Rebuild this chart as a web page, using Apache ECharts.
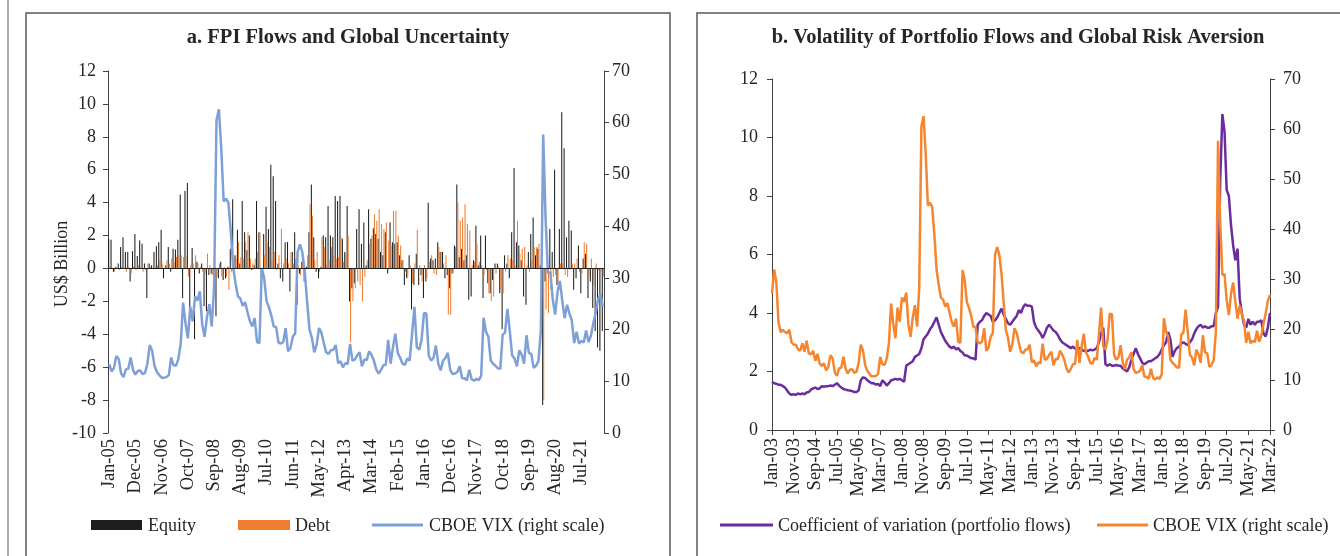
<!DOCTYPE html>
<html><head><meta charset="utf-8">
<script src="https://cdn.jsdelivr.net/npm/echarts@6/dist/echarts.min.js"></script>
<style>html,body{margin:0;padding:0;background:#fff}#c{width:1340px;height:556px}</style>
</head><body><div id="c"></div>
<script>
const MONTHS = ['Jan','Feb','Mar','Apr','May','Jun','Jul','Aug','Sep','Oct','Nov','Dec'];
function monthLabels(y0, count){const out=[];for(let k=0;k<count;k++){const y=y0+Math.floor(k/12);out.push(MONTHS[k%12]+'-'+String(y%100).padStart(2,'0'));}return out;}
const catA = monthLabels(2005, 208);   // Jan-05 .. Apr-22
const catB = monthLabels(2003, 231);   // Jan-03 .. Mar-22

const titleA = 'a. FPI Flows and Global Uncertainty';
const titleB = 'b. Volatility of Portfolio Flows and Global Risk Aversion';
const yNameA = 'US$ Billion';
const legendA = ['Equity', 'Debt', 'CBOE VIX (right scale)'];
const legendB = ['Coefficient of variation (portfolio flows)', 'CBOE VIX (right scale)'];

const equity = [
1.8,1.75,-0.2,0.1,0.3,1.3,1.9,1.0,1.0,-0.8,1.05,2.1,
0.75,1.7,1.5,0.3,-1.8,0.3,0.2,1.0,1.35,1.6,2.35,-0.6,
0.2,1.3,-0.2,1.2,1.15,1.75,4.5,-1.8,4.7,5.2,-3.1,1.25,
-4.3,0.4,-0.3,0.3,-2.3,-2.6,-0.4,-0.3,-1.9,-2.9,-0.6,0.4,
-0.7,-0.6,0.1,1.2,4.2,0.8,2.35,0.3,4.1,2.2,1.1,2.0,
-0.1,0.2,4.1,2.2,-2.0,2.1,3.75,2.4,6.3,5.6,4.1,0.3,
-0.6,-0.8,1.6,1.6,-1.4,1.0,2.2,-2.2,-0.3,0.4,-0.8,0.1,
2.2,5.1,1.9,-0.2,-0.6,0.1,2.0,1.9,3.8,2.0,1.9,4.4,
4.1,4.4,1.8,1.0,3.8,-2.0,-1.2,-0.9,2.4,3.6,1.5,2.8,
0.2,3.6,1.8,2.45,2.1,1.8,1.0,0.8,2.2,-0.3,2.8,1.6,
1.5,1.6,0.8,0.5,-1.0,-0.6,0.8,-2.5,-1.0,0.9,-1.0,-0.4,
-1.8,-0.8,4.0,0.6,0.5,0.6,1.6,1.0,1.0,-0.6,-0.4,-1.2,
-0.3,1.4,5.1,0.7,1.2,0.5,0.8,-1.9,-1.7,0.5,2.6,0.2,
2.0,-1.8,2.0,-0.9,-1.5,-0.7,0.3,0.3,-1.5,-3.7,0.8,0.3,
-0.6,2.2,6.1,1.6,1.4,0.5,-1.7,-2.2,1.0,2.1,3.1,0.8,
1.2,0.2,-8.3,-0.8,1.1,2.4,1.0,6.0,-1.0,2.4,9.5,7.3,
1.9,2.9,2.3,-1.3,-0.6,1.4,-1.5,0.6,0.9,-1.8,-0.8,-2.4,
-3.8,-4.8,-5.0,-3.8
];
const debt = [
0.1,0.05,-0.2,0.05,-0.1,0.1,0.05,-0.2,0.1,-0.3,0.1,-0.1,
0.2,0.05,-0.2,-0.1,0.3,0.1,0.0,0.1,0.2,0.5,0.3,0.05,
0.5,0.3,0.6,0.4,0.7,0.8,0.8,0.7,0.7,-0.5,0.2,0.3,
0.8,0.3,0.1,-0.2,-0.3,0.9,0.2,-0.4,0.8,-0.5,0.3,-0.5,
0.1,-0.5,-1.3,-0.2,0.5,0.6,1.6,0.7,0.6,1.6,2.2,0.6,
0.3,0.6,1.0,2.2,-0.2,0.8,1.6,1.3,0.5,1.0,-0.1,0.8,
2.4,0.3,0.6,0.3,1.0,0.3,0.6,0.2,-0.4,0.6,-0.5,0.8,
3.9,3.2,0.5,1.0,-0.2,1.9,1.3,0.2,0.5,1.3,0.8,0.6,
0.7,1.9,0.4,0.9,2.0,-4.5,-2.0,-1.2,-0.8,-1.0,-2.0,-0.5,
0.5,1.5,2.0,3.3,2.9,3.6,2.7,2.4,2.8,1.7,1.4,3.5,
3.5,2.0,1.4,0.5,-0.2,-0.5,0.2,-0.9,0.3,2.35,0.2,-0.8,
0.2,-0.6,0.4,0.8,-0.3,-0.4,1.3,1.0,0.3,0.8,-2.8,-2.8,
-0.3,1.3,4.0,2.9,3.1,3.9,2.7,2.3,0.2,0.4,1.5,0.4,
0.2,-0.4,-0.1,-1.5,-2.0,-1.7,-0.3,0.1,-1.3,-1.5,-0.2,0.8,
0.6,0.5,0.2,2.9,0.9,1.2,1.3,0.2,-0.2,0.5,1.3,1.3,
1.5,-0.3,-8.0,-2.5,-2.7,-1.3,-0.5,-0.4,-1.0,0.3,0.3,-0.4,
-0.5,-0.1,0.3,0.3,0.6,-0.2,-0.3,1.6,1.5,-0.5,0.6,-1.0,
0.3,-0.1,-0.2,-0.5
];
const vixA = [
13.3,11.9,12.6,14.9,14.3,11.5,10.8,12.3,12.4,14.6,12.2,11.3,
12.0,12.1,11.4,11.6,13.3,17.0,15.9,13.0,11.8,11.2,10.7,10.7,
10.8,11.2,14.6,13.1,13.0,14.3,17.3,25.2,21.2,18.3,24.4,21.6,
26.4,25.6,27.4,21.0,18.6,22.4,24.9,20.6,28.4,60.5,62.6,55.0,
44.8,45.3,44.5,38.9,32.0,28.9,26.4,26.0,24.6,25.3,23.4,21.6,
20.6,22.2,17.6,17.4,31.9,29.9,25.5,24.3,22.7,20.6,20.5,17.5,
17.3,17.6,20.3,15.8,16.4,18.6,19.3,35.0,36.5,34.9,31.2,25.4,
20.0,18.4,15.6,17.1,20.3,19.4,17.4,15.6,15.3,16.0,16.1,17.0,
13.5,13.9,12.7,13.5,13.3,17.2,14.0,14.2,15.0,15.6,12.9,14.2,
14.1,15.8,15.1,14.0,12.3,11.5,12.2,13.1,13.2,18.0,13.4,16.6,
19.2,15.5,14.6,13.4,13.2,14.4,14.0,19.1,24.4,16.6,16.1,18.0,
23.2,23.1,15.0,14.0,14.5,16.9,13.4,12.1,14.0,14.5,15.5,12.2,
11.4,11.5,11.8,12.9,10.6,10.6,10.2,12.2,10.4,10.1,10.5,10.2,
11.1,22.3,19.6,18.6,14.0,13.4,13.0,12.5,12.4,19.0,19.4,24.0,
19.6,15.0,14.4,12.9,16.0,15.1,13.4,18.9,15.5,15.3,12.6,13.0,
13.9,19.6,57.7,41.5,30.9,31.1,25.9,22.9,27.2,29.4,25.6,22.2,
24.8,23.1,21.8,17.4,19.6,17.3,17.8,17.5,19.8,17.6,18.8,21.2,
23.2,25.8,26.9,24.4
];
const coefVar = [
1.65,1.6,1.58,1.55,1.55,1.5,1.45,1.35,1.25,1.2,1.22,1.2,
1.25,1.22,1.25,1.22,1.28,1.3,1.38,1.42,1.45,1.4,1.42,1.5,
1.48,1.5,1.5,1.52,1.5,1.55,1.6,1.52,1.45,1.4,1.38,1.36,
1.35,1.33,1.3,1.3,1.35,1.7,1.8,1.78,1.7,1.65,1.6,1.6,
1.55,1.58,1.5,1.7,1.62,1.52,1.6,1.7,1.72,1.75,1.72,1.75,
1.7,1.65,2.2,2.25,2.3,2.35,2.5,2.55,2.6,2.8,3.1,3.2,
3.3,3.45,3.55,3.7,3.85,3.6,3.35,3.2,3.05,2.95,2.85,2.8,
2.85,2.75,2.8,2.7,2.65,2.55,2.55,2.5,2.45,2.45,2.4,3.6,
3.7,3.75,3.9,4.0,3.95,3.9,3.7,3.75,3.85,4.0,4.15,3.95,
3.8,3.65,3.6,3.7,3.8,3.9,4.1,4.0,4.2,4.3,4.25,4.25,
4.22,3.7,3.5,3.4,3.3,3.15,3.3,3.5,3.6,3.5,3.4,3.35,
3.25,3.1,3.0,2.95,2.9,2.85,2.8,2.85,2.78,2.75,2.8,2.75,
2.7,2.72,2.7,2.75,2.72,2.75,2.8,3.0,3.3,3.5,2.25,2.2,
2.25,2.2,2.2,2.22,2.2,2.2,2.1,2.05,2.0,2.15,2.4,2.6,
2.8,2.6,2.45,2.3,2.25,2.3,2.35,2.35,2.4,2.45,2.5,2.6,
2.75,2.9,3.0,3.35,3.1,2.5,2.7,2.8,2.85,2.95,3.0,2.95,
2.9,3.0,3.1,3.3,3.45,3.55,3.6,3.5,3.55,3.5,3.5,3.55,
3.55,4.0,4.2,8.5,10.8,10.2,8.2,8.0,7.0,6.3,5.8,6.2,
4.5,4.0,3.6,3.5,3.8,3.6,3.7,3.6,3.7,3.7,3.75,3.3,
3.2,3.5,4.0
];
const vixB = [
27.3,32.0,29.5,21.5,19.5,20.0,19.5,19.3,20.0,17.5,17.0,17.0,
16.1,15.8,17.3,15.6,17.8,15.3,15.1,15.8,13.8,15.2,13.3,12.8,
13.3,11.9,12.6,14.9,14.3,11.5,10.8,12.3,12.4,14.6,12.2,11.3,
12.0,12.1,11.4,11.6,13.3,17.0,15.9,13.0,11.8,11.2,10.7,10.7,
10.8,11.2,14.6,13.1,13.0,14.3,17.3,25.2,21.2,18.3,24.4,21.6,
26.4,25.6,27.4,21.0,18.6,22.4,24.9,20.6,28.4,60.5,62.6,55.0,
44.8,45.3,44.5,38.9,32.0,28.9,26.4,26.0,24.6,25.3,23.4,21.6,
20.6,22.2,17.6,17.4,31.9,29.9,25.5,24.3,22.7,20.6,20.5,17.5,
17.3,17.6,20.3,15.8,16.4,18.6,19.3,35.0,36.5,34.9,31.2,25.4,
20.0,18.4,15.6,17.1,20.3,19.4,17.4,15.6,15.3,16.0,16.1,17.0,
13.5,13.9,12.7,13.5,13.3,17.2,14.0,14.2,15.0,15.6,12.9,14.2,
14.1,15.8,15.1,14.0,12.3,11.5,12.2,13.1,13.2,18.0,13.4,16.6,
19.2,15.5,14.6,13.4,13.2,14.4,14.0,19.1,24.4,16.6,16.1,18.0,
23.2,23.1,15.0,14.0,14.5,16.9,13.4,12.1,14.0,14.5,15.5,12.2,
11.4,11.5,11.8,12.9,10.6,10.6,10.2,12.2,10.4,10.1,10.5,10.2,
11.1,22.3,19.6,18.6,14.0,13.4,13.0,12.5,12.4,19.0,19.4,24.0,
19.6,15.0,14.4,12.9,16.0,15.1,13.4,18.9,15.5,15.3,12.6,13.0,
13.9,19.6,57.7,41.5,30.9,31.1,25.9,22.9,27.2,29.4,25.6,22.2,
24.8,23.1,21.8,17.4,19.6,17.3,17.8,17.5,19.8,17.6,18.8,21.2,
23.2,25.8,26.9
];

const FONT = 'Liberation Serif';
const TXT = '#262626';
const AX = '#404040';
const C_EQ = '#1e1e1e', C_DEBT = '#ED7D31', C_VIXA = '#7EA0D7', C_COV = '#6B2C9E', C_VIXB = '#F5862F';
const numLbl = {fontFamily: FONT, fontSize: 18, color: TXT};
const catLbl = {fontFamily: FONT, fontSize: 18.5, color: TXT};

function yAx(grid, pos, min, max, interval, margin){
  return {
    type:'value', gridIndex:grid, position:pos, min:min, max:max, interval:interval,
    axisLine:{show:true, lineStyle:{color:AX, width:1}},
    axisTick:{show:true, inside:false, length:5, lineStyle:{color:AX}},
    axisLabel:Object.assign({margin:margin}, numLbl),
    splitLine:{show:false}
  };
}
function legText(x, t){
  return {type:'text', x:x, y:526, style:{text:t, font:'18px "Liberation Serif"', fill:TXT, textAlign:'left', textVerticalAlign:'middle'}};
}
function legLine(x1, x2, color){
  return {type:'line', shape:{x1:x1, y1:525, x2:x2, y2:525}, style:{stroke:color, lineWidth:3}};
}
function legRect(x, w, color){
  return {type:'rect', shape:{x:x, y:520, width:w, height:10}, style:{fill:color}};
}

const chart = echarts.init(document.getElementById('c'), null, {renderer:'canvas'});
chart.setOption({
  animation:false,
  backgroundColor:'#ffffff',
  graphic:[
    {type:'line', shape:{x1:8,y1:0,x2:8,y2:556}, style:{stroke:'#8c8c8c', lineWidth:1.5}},
    {type:'rect', shape:{x:26,y:13,width:644,height:600}, style:{fill:'none', stroke:'#5a5a5a', lineWidth:1.5}},
    {type:'rect', shape:{x:697,y:13,width:646,height:600}, style:{fill:'none', stroke:'#5a5a5a', lineWidth:1.5}},
    {type:'text', x:348, y:38, style:{text:titleA, font:'bold 20.5px "Liberation Serif"', fill:TXT, textAlign:'center', textVerticalAlign:'middle'}},
    {type:'text', x:1018, y:38, style:{text:titleB, font:'bold 20.5px "Liberation Serif"', fill:TXT, textAlign:'center', textVerticalAlign:'middle'}},
    {type:'text', x:62, y:264, rotation:Math.PI/2, style:{text:yNameA, font:'18px "Liberation Serif"', fill:TXT, textAlign:'center', textVerticalAlign:'middle'}},
    legRect(91, 51, C_EQ), legText(148, legendA[0]),
    legRect(238, 52, C_DEBT), legText(295, legendA[1]),
    legLine(372, 423, C_VIXA), legText(429, legendA[2]),
    legLine(720, 773, C_COV), legText(778, legendB[0]),
    legLine(1097, 1148, C_VIXB), legText(1153, legendB[1])
  ],
  grid:[
    {left:108, top:71, width:496, height:362},
    {left:772, top:79, width:498, height:351}
  ],
  xAxis:[
    {type:'category', gridIndex:0, data:catA, boundaryGap:true,
     axisLine:{show:false, onZero:false}, axisTick:{show:false},
     axisLabel:Object.assign({interval:10, rotate:90, margin:6, padding:[7,0,0,0]}, catLbl), splitLine:{show:false}},
    {type:'category', gridIndex:1, data:catB, boundaryGap:false,
     axisLine:{show:true, onZero:false, lineStyle:{color:AX, width:1}},
     axisTick:{show:true, interval:9, length:5, lineStyle:{color:AX}},
     axisLabel:Object.assign({interval:9, rotate:90, margin:8, padding:[6,0,0,0]}, catLbl), splitLine:{show:false}}
  ],
  yAxis:[
    yAx(0,'left',-10,12,2,12),
    yAx(0,'right',0,70,10,8),
    yAx(1,'left',0,12,2,14),
    yAx(1,'right',0,70,10,13)
  ],
  series:[
    {name:legendA[0], type:'bar', xAxisIndex:0, yAxisIndex:0, data:equity, barGap:'0%', barCategoryGap:'12%',
     itemStyle:{color:C_EQ},
     markLine:{silent:true, symbol:'none', label:{show:false}, lineStyle:{color:C_EQ, width:1.2, type:'solid'}, data:[{yAxis:0}]}},
    {name:legendA[1], type:'bar', xAxisIndex:0, yAxisIndex:0, data:debt, itemStyle:{color:C_DEBT}},
    {name:legendA[2], type:'line', xAxisIndex:0, yAxisIndex:1, data:vixA, symbol:'none',
     lineStyle:{color:C_VIXA, width:2.5}, itemStyle:{color:C_VIXA}},
    {name:legendB[0], type:'line', xAxisIndex:1, yAxisIndex:2, data:coefVar, symbol:'none',
     lineStyle:{color:C_COV, width:2.5}, itemStyle:{color:C_COV}},
    {name:'VIX b', type:'line', xAxisIndex:1, yAxisIndex:3, data:vixB, symbol:'none',
     lineStyle:{color:C_VIXB, width:2.5}, itemStyle:{color:C_VIXB}}
  ]
});
</script>
</body></html>
